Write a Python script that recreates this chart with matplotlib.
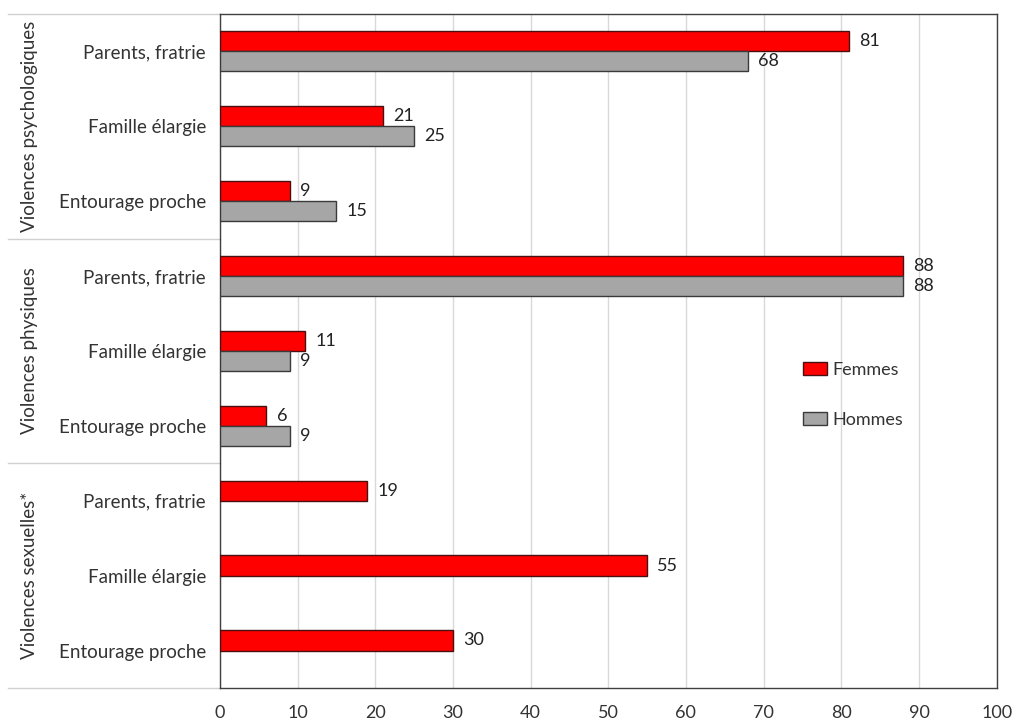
import matplotlib.pyplot as plt
import matplotlib.transforms as mtransforms
import numpy as np

# data
groups = ['Violences psychologiques', 'Violences physiques', 'Violences sexuelles*']
categories = ['Parents, fratrie', 'Famille élargie', 'Entourage proche'] * 3
femmes = [81, 21, 9, 88, 11, 6, 19, 55, 30]
hommes = [68, 25, 15, 88, 9, 9, None, None, None]
xticks = list(range(0, 101, 10))

plt.rcParams['font.family'] = ['Lato', 'DejaVu Sans']

fig = plt.figure(figsize=(10.18, 7.22), dpi=100)
ax = fig.add_axes([0.216, 0.047, 0.763, 0.934])

y = np.arange(len(categories))
h = 0.27
off = 0.135

ax.barh(y - off, femmes, height=h, color='#ff0000', edgecolor='#4a1010', linewidth=1, label='Femmes', zorder=3)
hom_y = [yy + off for yy, v in zip(y, hommes) if v is not None]
hom_v = [v for v in hommes if v is not None]
ax.barh(hom_y, hom_v, height=h, color='#a6a6a6', edgecolor='#3a3a3a', linewidth=1, label='Hommes', zorder=3)

# value labels
for yy, v in zip(y, femmes):
    ax.text(v + 1.3, yy - off, str(v), va='center', ha='left', fontsize=13, color='#222222')
for yy, v in zip(hom_y, hom_v):
    ax.text(v + 1.3, yy, str(v), va='center', ha='left', fontsize=13, color='#222222')

ax.set_xlim(0, 100)
ax.set_ylim(len(categories) - 0.5, -0.5)
ax.set_xticks(xticks)
ax.set_yticks(y)
ax.set_yticklabels(categories, fontsize=13.5, color='#333333')
ax.tick_params(axis='x', length=0, pad=12, labelsize=13, labelcolor='#333333')
ax.tick_params(axis='y', length=0, pad=10)
ax.grid(axis='x', color='#d9d9d9', linewidth=1, zorder=0)
ax.set_axisbelow(True)
for s in ax.spines.values():
    s.set_color('#404040')
    s.set_linewidth(1)

# group separators and labels on the left
trans = mtransforms.blended_transform_factory(ax.transAxes, ax.transData)
for sep in [-0.5, 2.5, 5.5, 8.5]:
    ax.plot([-0.273, 0], [sep, sep], color='#d0d0d0', linewidth=1, transform=trans, clip_on=False)
for i, g in enumerate(groups):
    ax.text(-0.245, 3 * i + 1, g, rotation=90, ha='center', va='center', fontsize=13.5,
            color='#333333', transform=trans)

leg = ax.legend(loc='upper left', bbox_to_anchor=(0.73, 0.508), frameon=False, fontsize=13,
                labelspacing=1.9, handlelength=1.3, handleheight=0.7, handletextpad=0.3)
for t in leg.get_texts():
    t.set_color('#333333')

fig.savefig('out.png', dpi=100)
